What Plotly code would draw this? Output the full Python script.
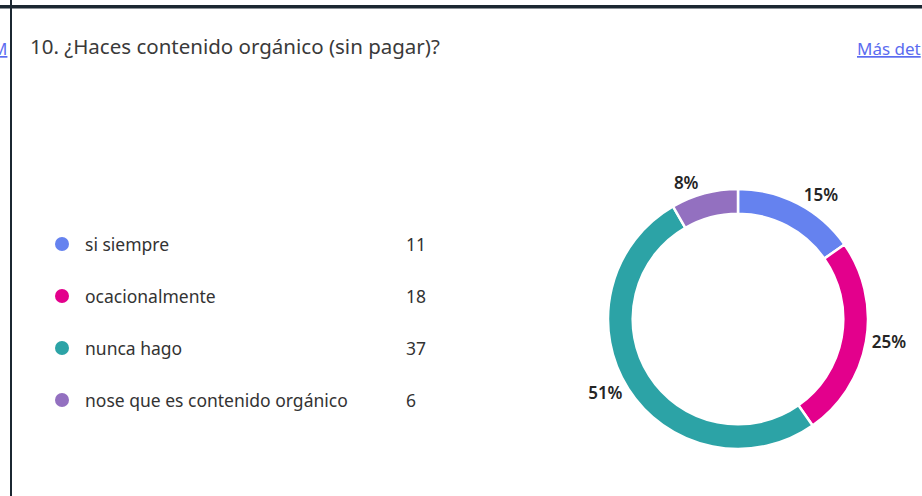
import plotly.graph_objects as go

# survey answers (Microsoft Forms question 10)
question = "10. ¿Haces contenido orgánico (sin pagar)?"
categories = ["si siempre", "ocacionalmente", "nunca hago", "nose que es contenido orgánico"]
counts = [11, 18, 37, 6]
colors = ["#6582ef", "#e3008c", "#2ca3a6", "#9370c0"]

W, H = 922, 496
FONT = "Noto Sans, Open Sans, sans-serif"

fig = go.Figure()

# donut
fig.add_trace(go.Pie(
    labels=categories,
    values=counts,
    sort=False,
    direction="clockwise",
    rotation=0,
    hole=0.81,
    marker=dict(colors=colors, line=dict(color="white", width=2.5)),
    textposition="outside",
    texttemplate="%{percent:.0%}",
    outsidetextfont=dict(family=FONT, size=17, color="#252525", weight=600),
    showlegend=False,
    hoverinfo="label+value+percent",
    domain=dict(x=[608 / W, 868 / W], y=[(H - 454) / H, (H - 184) / H]),
))

# legend dots drawn in a pixel-sized cartesian space
row_y = [244 + 52 * i for i in range(len(categories))]
fig.add_trace(go.Scatter(
    x=[62] * len(categories),
    y=row_y,
    mode="markers",
    marker=dict(color=colors, size=14),
    showlegend=False,
    hoverinfo="skip",
))

for cat, n, y in zip(categories, counts, row_y):
    fig.add_annotation(x=83, y=y, text=cat, xanchor="left", yanchor="middle",
                       showarrow=False, font=dict(family=FONT, size=17.5, color="#333333"))
    fig.add_annotation(x=404, y=y, text=str(n), xanchor="left", yanchor="middle",
                       showarrow=False, font=dict(family=FONT, size=17.5, color="#333333"))

# title and links
fig.add_annotation(x=28, y=46, text=question, xanchor="left", yanchor="middle",
                   showarrow=False, font=dict(family=FONT, size=20.5, color="#3a3a3a"))
fig.add_annotation(x=855, y=48, text="<u>Más det</u>", xanchor="left", yanchor="middle",
                   showarrow=False, font=dict(family=FONT, size=17, color="#5b6cf0"))
fig.add_annotation(x=9, y=48, text="<u>M</u>", xanchor="right", yanchor="middle",
                   showarrow=False, font=dict(family=FONT, size=17, color="#5b6cf0"))

# window frame: dark top bar and left border
fig.add_shape(type="rect", x0=0, x1=W, y0=5, y1=8.5, line_width=0, fillcolor="#1b2731")
fig.add_shape(type="line", x0=11, x1=11, y0=0, y1=H, line=dict(color="#1b2731", width=2))

fig.update_xaxes(range=[0, W], visible=False, fixedrange=True)
fig.update_yaxes(range=[H, 0], visible=False, fixedrange=True)
fig.update_layout(
    width=W, height=H,
    margin=dict(l=0, r=0, t=0, b=0),
    paper_bgcolor="white",
    plot_bgcolor="white",
)

# drop the default page margin so the figure sits at the window's corner
fig.write_html("out.html", config={"displayModeBar": False},
               post_script="document.body.style.margin='0';")
